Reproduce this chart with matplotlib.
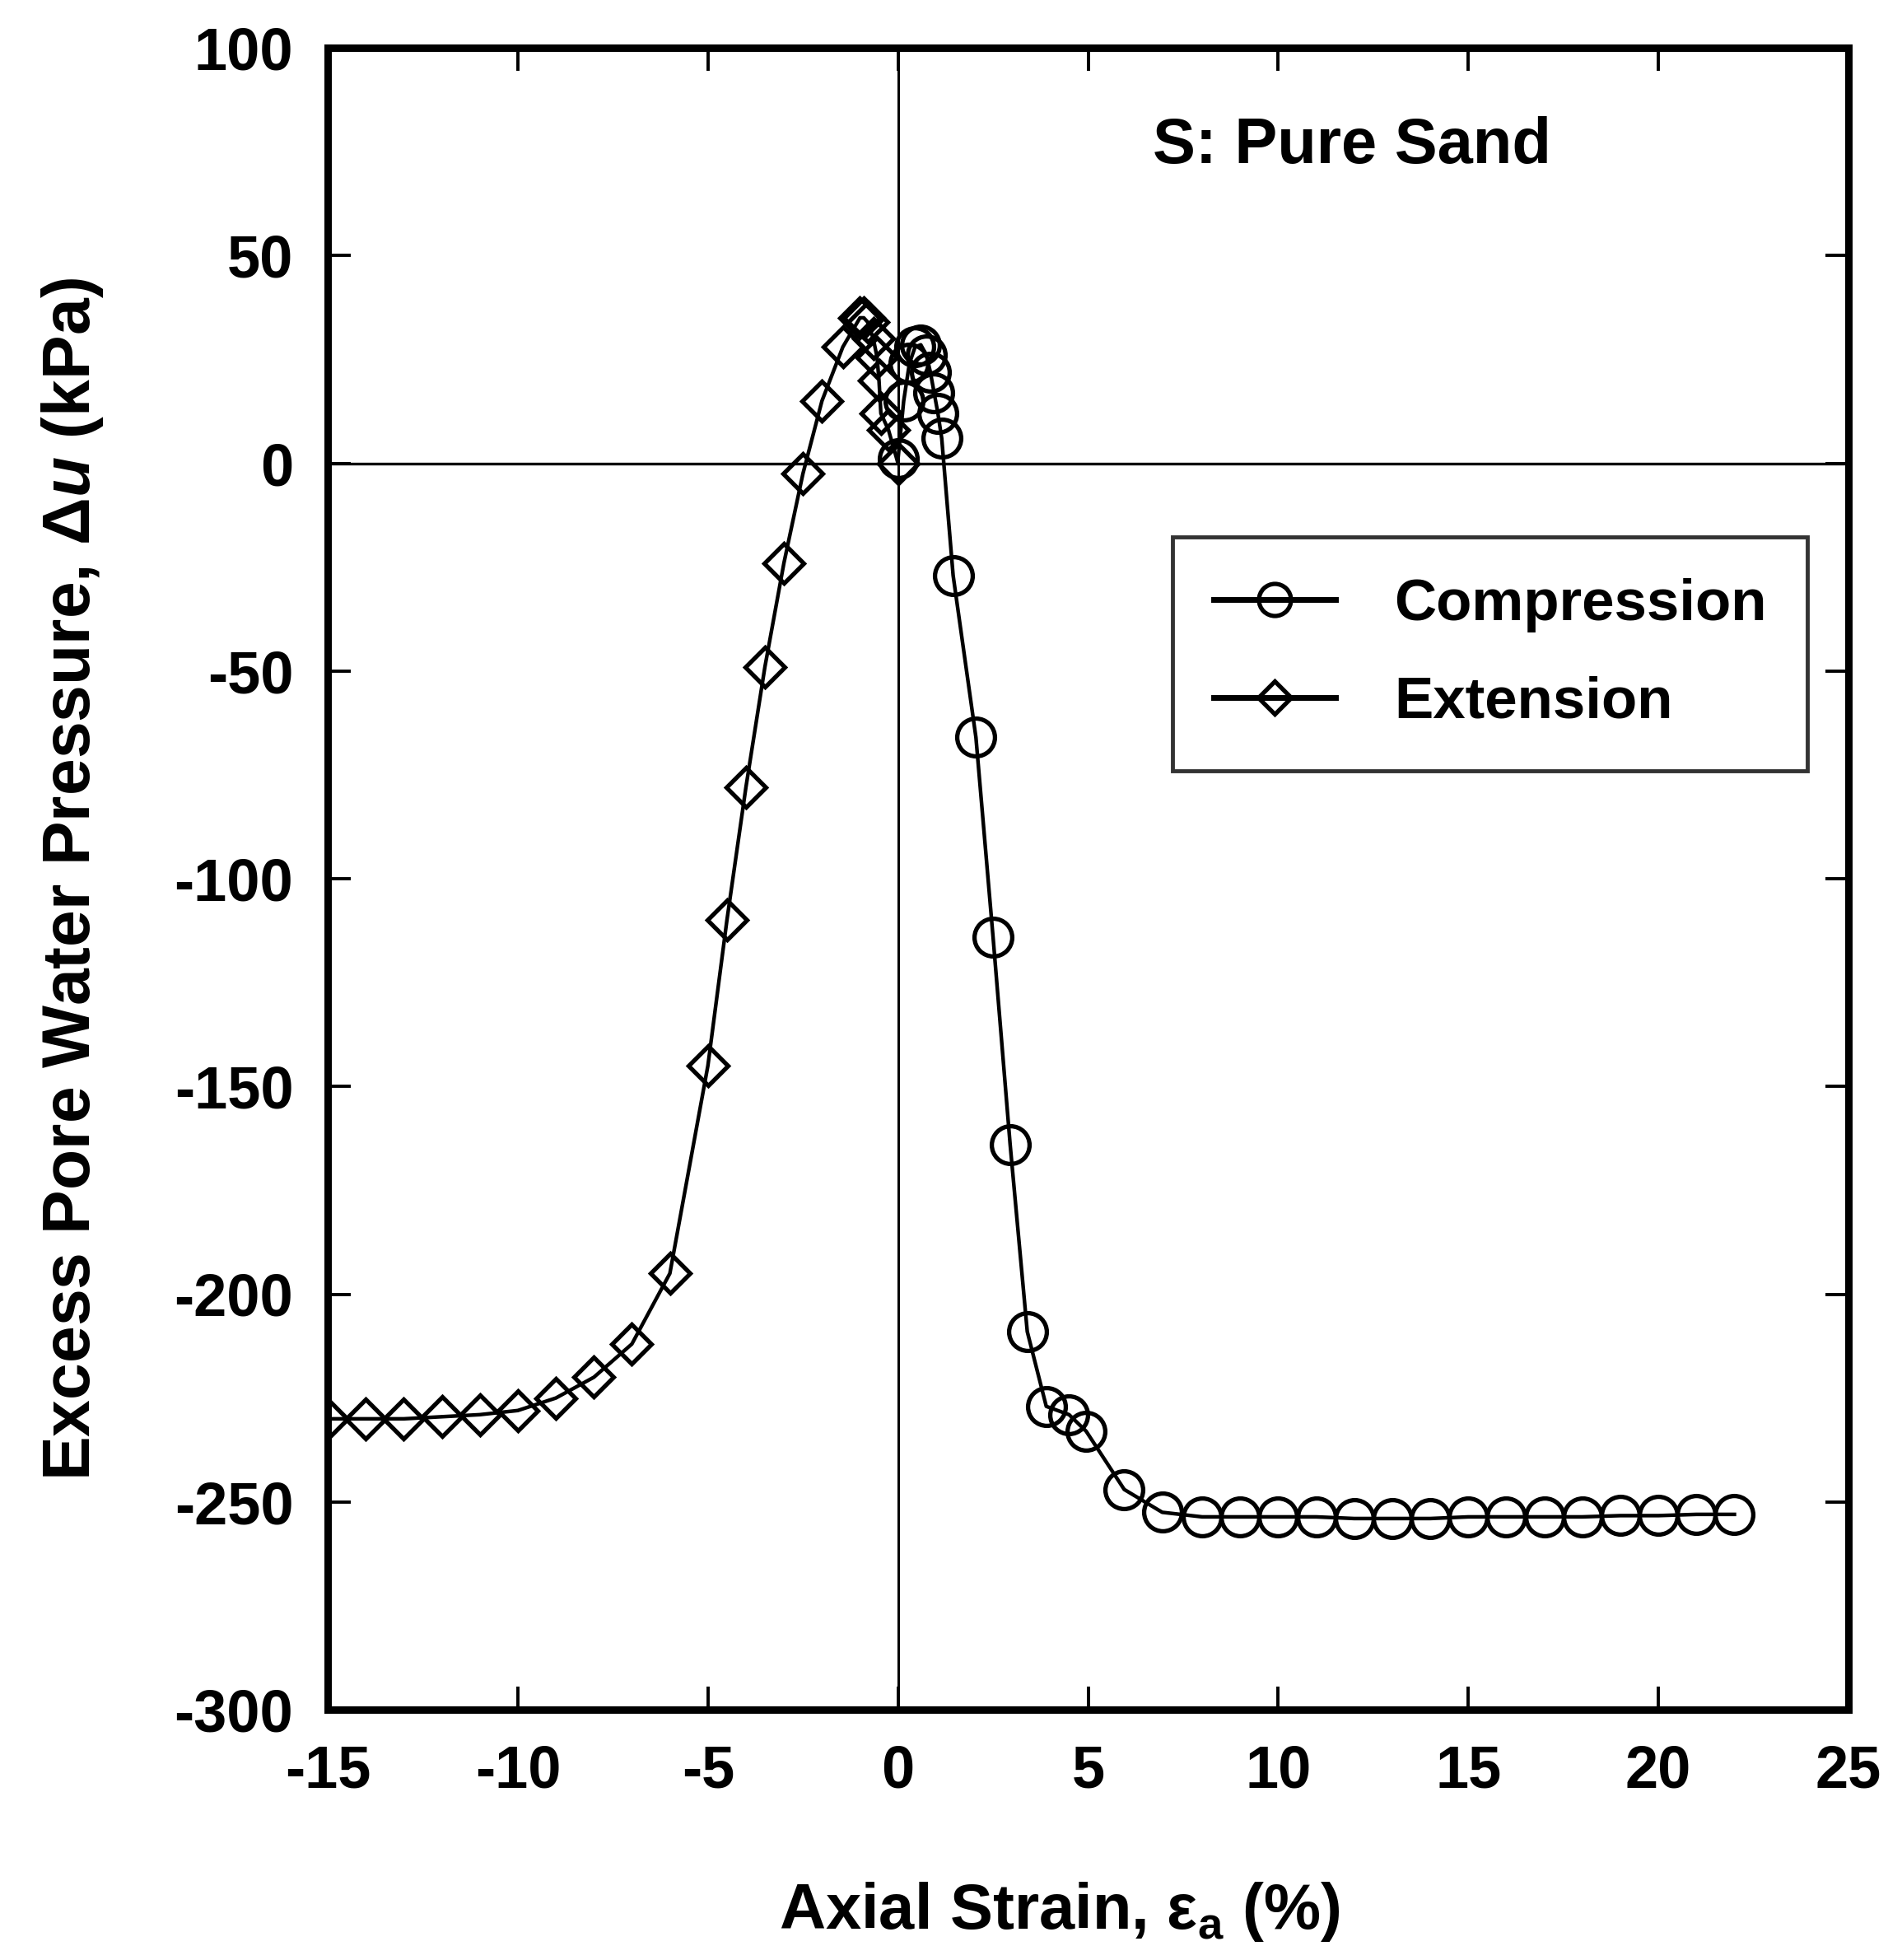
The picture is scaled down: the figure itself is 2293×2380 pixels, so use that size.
import matplotlib
matplotlib.use("Agg")
import matplotlib.pyplot as plt

# ---- data ----
comp_x = [0.0, 0.15, 0.3, 0.45, 0.6, 0.75, 0.85, 0.95, 1.05, 1.15, 1.45, 2.05, 2.5, 2.95, 3.4,
          3.9, 4.5, 4.95, 5.95, 6.95, 8, 9, 10, 11, 12, 13, 14, 15, 16, 17, 18, 19, 20, 21, 22]
comp_y = [1, 15, 24, 28, 28.5, 26, 22, 17, 12, 6, -27, -66, -114, -164, -209,
          -227, -229, -233, -247, -252.5, -253.6, -253.6, -253.6, -253.6, -254, -254, -254,
          -253.6, -253.6, -253.6, -253.6, -253.3, -253.3, -253, -253]

ext_x = [0.0, -0.25, -0.45, -0.5, -0.55, -0.65, -0.8, -0.9, -1.0, -1.45, -2.0, -2.5, -3.0,
         -3.5, -4.0, -4.5, -5.0, -6.0, -7.0, -8.0, -9.0, -10.0, -11.0, -12.0, -13.0, -14.0, -15.0]
ext_y = [0, 8, 12, 20, 25.5, 30, 34, 35, 35, 28, 15, -2.5, -24,
         -49, -78, -110, -145, -195, -212, -220, -225, -228, -229, -229.5, -230, -230, -230]

series_labels = ["Compression", "Extension"]
x_ticks = [-15, -10, -5, 0, 5, 10, 15, 20, 25]
y_ticks = [-300, -250, -200, -150, -100, -50, 0, 50, 100]
title_text = "S: Pure Sand"
xlabel_text = r"Axial Strain, ε$_{\mathrm{a}}$ (%)"
ylabel_text = r"Excess Pore Water Pressure, Δ$u$ (kPa)"

# ---- style ----
plt.rcParams['font.family'] = ['Liberation Sans', 'DejaVu Sans']
plt.rcParams['font.weight'] = 'bold'
plt.rcParams['mathtext.fontset'] = 'custom'
plt.rcParams['mathtext.rm'] = 'Liberation Sans:bold'
plt.rcParams['mathtext.it'] = 'Liberation Sans:bold:italic'
plt.rcParams['mathtext.bf'] = 'Liberation Sans:bold'

W, H = 2293, 2380
fig = plt.figure(figsize=(W / 100, H / 100), dpi=100)
L, R, T, B = 398, 2245, 58, 2076
ax = fig.add_axes([L / W, 1 - B / H, (R - L) / W, (B - T) / H])

ax.axhline(0, color='black', lw=2.4, zorder=1)
ax.axvline(0, color='black', lw=2.2, zorder=1)

ax.plot(comp_x, comp_y, color='black', lw=3.2, marker='o', markersize=33,
        markerfacecolor='none', markeredgecolor='black', markeredgewidth=3.8,
        label=series_labels[0], zorder=3)
ax.plot(ext_x, ext_y, color='black', lw=3.2, marker='D', markersize=24,
        markerfacecolor='none', markeredgecolor='black', markeredgewidth=3.8,
        label=series_labels[1], zorder=3)

ax.set_xlim(-15, 25)
ax.set_ylim(-300, 100)
ax.set_xticks(x_ticks)
ax.set_yticks(y_ticks)
ax.set_xticklabels([str(v) for v in x_ticks])
ax.set_yticklabels([str(v) for v in y_ticks])
ax.tick_params(direction='in', length=20, width=2.8, top=True, right=True,
               labelsize=52, pad=30)
for lab in ax.get_xticklabels() + ax.get_yticklabels():
    lab.set_fontweight('bold')
for sp in ax.spines.values():
    sp.set_linewidth(6.5)

leg = ax.legend(loc='upper left', bbox_to_anchor=(1424 / W, 1 - 652 / H),
                bbox_transform=fig.transFigure, fontsize=51, frameon=True,
                fancybox=False, edgecolor='black', handlelength=2.1,
                handletextpad=1.0, borderpad=0.7, labelspacing=0.75,
                markerscale=0.85, borderaxespad=0)
leg.get_frame().set_linewidth(3.5)
for t in leg.get_texts():
    t.set_fontweight('bold')
for ln in leg.get_lines():
    ln.set_linewidth(5)

fig.text(1642 / W, 1 - 198 / H, title_text, ha='center', va='baseline',
         fontsize=56, fontweight='bold')
fig.text(1287 / W, 1 - 2342 / H, xlabel_text, ha='center', va='baseline',
         fontsize=56, fontweight='bold')
fig.text(88 / W, 1 - 1068 / H, ylabel_text, ha='center', va='center',
         rotation=90, fontsize=58, fontweight='bold')

fig.savefig("out.png", dpi=100, facecolor='white')
